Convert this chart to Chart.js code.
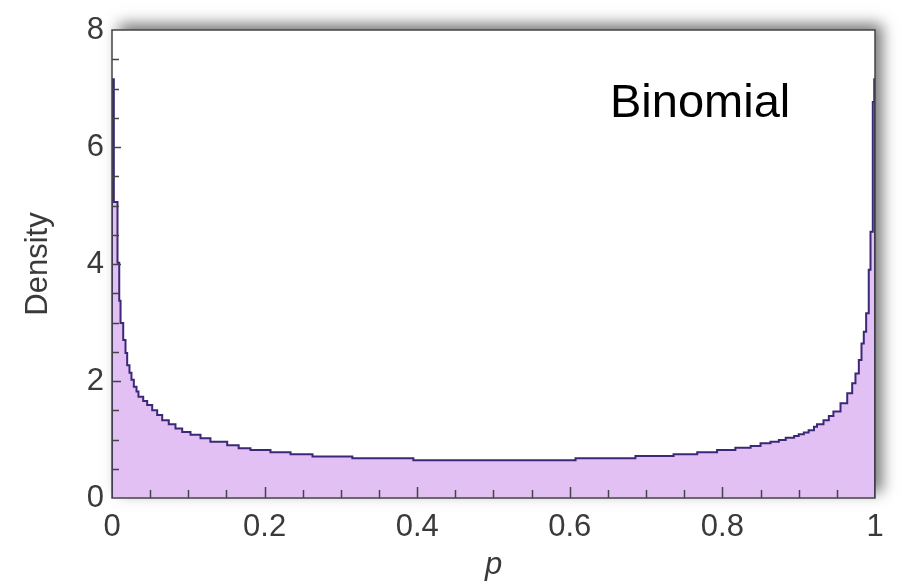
<!DOCTYPE html>
<html>
<head>
<meta charset="utf-8">
<title>Binomial density</title>
<script src="https://cdn.jsdelivr.net/npm/chart.js@4.4.1/dist/chart.umd.min.js"></script>
<style>
  html, body { margin: 0; padding: 0; background: #fff; }
  #wrap { width: 908px; height: 582px; position: relative; }
</style>
</head>
<body>
<div id="wrap"><canvas id="chart-density" width="908" height="582"></canvas></div>
<script>
// Histogram of posterior draws of p: left edge of each bin and its density
const binStart = [
  0, 0.0024, 0.0072, 0.0095, 0.0112, 0.0147, 0.0177, 0.0199, 0.0229, 0.0255,
  0.0286, 0.0321, 0.0347, 0.0409, 0.0461, 0.0527, 0.0592, 0.0658, 0.0744, 0.0832,
  0.092, 0.1029, 0.116, 0.129, 0.151, 0.166, 0.1815, 0.2077, 0.234, 0.2628,
  0.315, 0.395, 0.6075, 0.686, 0.736, 0.767, 0.793, 0.817, 0.837, 0.850,
  0.863, 0.874, 0.883, 0.894, 0.900, 0.9067, 0.913, 0.920, 0.924, 0.9325,
  0.9395, 0.9455, 0.9548, 0.9636, 0.9701, 0.9744, 0.9788, 0.9823, 0.9853, 0.9884,
  0.9918, 0.9941, 0.9971, 0.9990
];
const density = [
  7.16, 5.06, 4.02, 3.37, 2.99, 2.70, 2.48, 2.27, 2.14, 2.02,
  1.90, 1.82, 1.73, 1.66, 1.59, 1.50, 1.42, 1.33, 1.26, 1.19,
  1.13, 1.08, 1.02, 0.96, 0.90, 0.85, 0.82, 0.78, 0.75, 0.71,
  0.68, 0.645, 0.68, 0.72, 0.75, 0.78, 0.82, 0.86, 0.89, 0.935,
  0.96, 0.99, 1.03, 1.06, 1.09, 1.12, 1.16, 1.22, 1.26, 1.33,
  1.40, 1.48, 1.62, 1.79, 1.96, 2.13, 2.36, 2.64, 2.84, 3.16,
  3.90, 4.55, 6.77, 7.16
];

const xTicks = [0, 0.2, 0.4, 0.6, 0.8, 1];
const xMinorStep = 0.05;
const yTicks = [0, 2, 4, 6, 8];
const yMinorStep = 0.5;
const panelLabel = 'Binomial';

// step outline: rise from 0 at p=0, hold each bin, drop back to 0 at p=1
const points = [{ x: 0, y: 0 }];
binStart.forEach((p, i) => points.push({ x: p, y: density[i] }));
points.push({ x: 1, y: density[density.length - 1] });
points.push({ x: 1, y: 0 });

const FONT = '"Liberation Sans", Arial, sans-serif';
const AXIS = '#444';

// white panel with a soft drop shadow toward the top right
const panelShadow = {
  id: 'panelShadow',
  beforeDraw(chart) {
    const { ctx, chartArea: a } = chart;
    ctx.save();
    ctx.shadowColor = 'rgba(0,0,0,0.55)';
    ctx.shadowBlur = 14;
    ctx.shadowOffsetX = 7;
    ctx.shadowOffsetY = -6;
    ctx.fillStyle = '#fff';
    ctx.fillRect(a.left, a.top, a.right - a.left, a.bottom - a.top);
    ctx.restore();
  }
};

// frame, inward ticks and the panel label
const frameTicks = {
  id: 'frameTicks',
  afterDraw(chart) {
    const { ctx, chartArea: a, scales } = chart;
    const x = scales.x, y = scales.y;
    ctx.save();
    ctx.strokeStyle = AXIS;
    ctx.lineWidth = 1.5;
    ctx.strokeRect(a.left, a.top, a.right - a.left, a.bottom - a.top);

    ctx.beginPath();
    for (let v = 0; v <= 1.0001; v += xMinorStep) {
      const px = Math.round(x.getPixelForValue(v)) + 0.5;
      const major = xTicks.some(t => Math.abs(t - v) < 1e-6);
      if (v < 1e-6 || v > 0.9999) continue;
      ctx.moveTo(px, a.bottom);
      ctx.lineTo(px, a.bottom - (major ? 11 : 8));
    }
    for (let v = 0; v <= 8.0001; v += yMinorStep) {
      const py = Math.round(y.getPixelForValue(v)) + 0.5;
      const major = yTicks.some(t => Math.abs(t - v) < 1e-6);
      if (v < 1e-6 || v > 7.9999) continue;
      ctx.moveTo(a.left, py);
      ctx.lineTo(a.left + (major ? 9 : 7), py);
    }
    ctx.stroke();

    ctx.fillStyle = '#000';
    ctx.font = '47px ' + FONT;
    ctx.textBaseline = 'alphabetic';
    ctx.textAlign = 'left';
    ctx.fillText(panelLabel, 610, 117);
    ctx.restore();
  }
};

new Chart(document.getElementById('chart-density'), {
  type: 'line',
  data: {
    datasets: [{
      label: 'Density',
      data: points,
      stepped: true,
      borderColor: '#3b2878',
      borderWidth: 2,
      backgroundColor: '#e2c0f3',
      fill: 'origin',
      pointRadius: 0,
      tension: 0
    }]
  },
  options: {
    responsive: false,
    animation: false,
    events: [],
    layout: { padding: { left: 0, top: 30, right: 33, bottom: 0 } },
    plugins: {
      legend: { display: false },
      tooltip: { enabled: false }
    },
    scales: {
      x: {
        type: 'linear',
        min: 0,
        max: 1,
        afterBuildTicks: (s) => { s.ticks = xTicks.map(v => ({ value: v })); },
        afterFit: (s) => { s.height = 84; },
        grid: { display: false, drawTicks: false },
        border: { display: false },
        ticks: {
          padding: 11,
          color: '#3a3a3a',
          font: { family: FONT, size: 31 },
          maxRotation: 0,
          callback: (v) => String(v)
        },
        title: {
          display: true,
          text: 'p',
          color: '#3a3a3a',
          padding: { top: 0, bottom: -2 },
          font: { family: FONT, size: 31, style: 'italic' }
        }
      },
      y: {
        min: 0,
        max: 8,
        afterBuildTicks: (s) => { s.ticks = yTicks.map(v => ({ value: v })); },
        afterFit: (s) => { s.width = 112; },
        grid: { display: false, drawTicks: false },
        border: { display: false },
        ticks: {
          padding: 8,
          color: '#3a3a3a',
          font: { family: FONT, size: 31 }
        },
        title: {
          display: true,
          text: 'Density',
          color: '#3a3a3a',
          padding: { top: 20, bottom: 0 },
          font: { family: FONT, size: 31 }
        }
      }
    }
  },
  plugins: [panelShadow, frameTicks]
});
</script>
</body>
</html>
